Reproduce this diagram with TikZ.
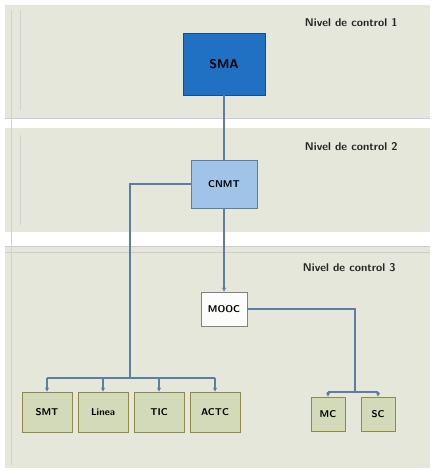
\documentclass[tikz,border=0pt]{standalone}
\usepackage{tikz}
\usetikzlibrary{positioning,calc,arrows.meta}
\definecolor{fondo}{RGB}{229,231,218}
\definecolor{azul}{RGB}{32,112,196}
\definecolor{celeste}{RGB}{160,196,232}
\definecolor{linea}{RGB}{92,126,166}
\definecolor{oliva}{RGB}{211,218,186}

\begin{document}
\begin{tikzpicture}[x=0.025cm, y=-0.025cm,
    level/.style={font=\footnotesize\bfseries\sffamily, text=black!85, anchor=west},
    top/.style={rectangle, draw=azul!70!black, fill=azul, minimum width=2.05cm, minimum height=1.55cm, font=\small\bfseries\sffamily},
    mid/.style={rectangle, draw=linea, fill=celeste, minimum width=1.65cm, minimum height=1.2cm, font=\scriptsize\bfseries\sffamily},
    hub/.style={rectangle, draw=gray, fill=white!90!fondo, minimum width=1.15cm, minimum height=0.85cm, font=\scriptsize\bfseries\sffamily},
    unit/.style={rectangle, draw=olive!50!gray, fill=oliva, minimum width=1.25cm, minimum height=1cm, font=\scriptsize\bfseries\sffamily},
    small/.style={unit, minimum width=0.85cm, minimum height=0.85cm},
    link/.style={draw=linea, line width=1.1pt},
    arr/.style={link, -{Stealth[length=3pt,width=3pt]}}
]
    % fondo y bandas
    \fill[white] (0,0) rectangle (433,471);
    \fill[fondo] (5,5) rectangle (430,468);
    \fill[white] (5,118) rectangle (430,128);
    \fill[white] (5,232) rectangle (430,246);
    \draw[gray!40] (5,118) -- (430,118) (5,246) -- (430,246) (5,252) -- (430,252);
    \draw[gray!35] (11,10) -- (11,465) (20,10) -- (20,110) (20,135) -- (20,225);

    \node[level] (lvl1) at (300,23) {Nivel de control 1};
    \node[level] (lvl2) at (300,147) {Nivel de control 2};
    \node[level] (lvl3) at (298,268) {Nivel de control 3};

    \node[top] (sma) at (224,64) {SMA};
    \node[mid] (cnmt) at (224,184) {CNMT};
    \node[hub] (mooc) at (224,309) {MOOC};

    \node[unit] (smt) at (47,412) {SMT};
    \node[unit] (linea) at (103,412) {Linea};
    \node[unit] (tic) at (159,412) {TIC};
    \node[unit] (actc) at (215,412) {ACTC};
    \node[small] (mc) at (328,414) {MC};
    \node[small] (sc) at (378,414) {SC};

    \coordinate (busl) at (130,378);
    \coordinate (busr) at (355,392);

    \draw[link] (sma) -- (cnmt);
    \draw[arr] (cnmt) -- (mooc);
    \draw[link] (cnmt.west) -| (busl);
    \draw[link] (mooc.east) -| (busr);
    \draw[link] (smt.north |- busl) -- (actc.north |- busl);
    \draw[link] (mc.north |- busr) -- (sc.north |- busr);
    \foreach \n in {smt,linea,tic,actc}
        \draw[arr] (\n.north |- busl) -- (\n.north);
    \foreach \n in {mc,sc}
        \draw[arr] (\n.north |- busr) -- (\n.north);
\end{tikzpicture}
\end{document}
